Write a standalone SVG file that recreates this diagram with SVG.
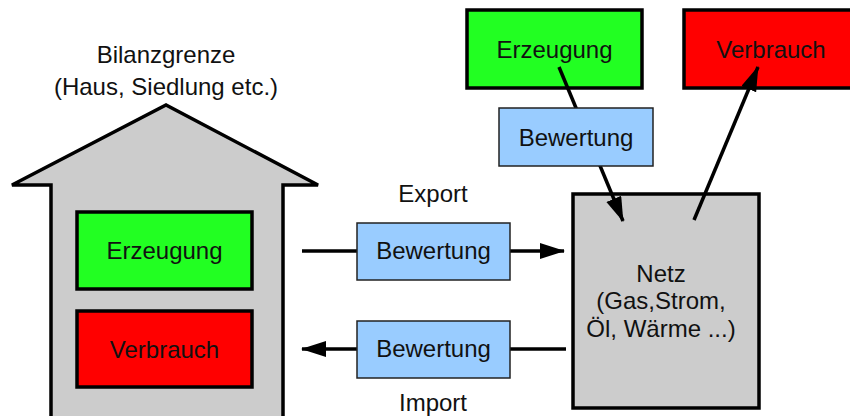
<svg xmlns="http://www.w3.org/2000/svg" width="850" height="416" viewBox="0 0 850 416">
  <style>
    text { font-family: "Liberation Sans", Arial, sans-serif; font-size: 24px; fill: #111; text-anchor: middle; }
    .box { stroke: #000; stroke-width: 3.5; }
    .eval { fill: #99ccff; stroke: #222; stroke-width: 1.5; }
    .gen { fill: #22ff22; }
    .use { fill: #ff0000; }
    .grey { fill: #cccccc; }
    .conn { stroke: #000; stroke-width: 3.5; fill: none; }
  </style>
  <defs>
    <marker id="arrow" markerUnits="userSpaceOnUse" markerWidth="28" markerHeight="20" refX="24" refY="8" orient="auto">
      <path d="M0,0 L25,8 L0,16 z" fill="#000"/>
    </marker>
  </defs>

  <rect width="850" height="416" fill="#fff"/>

  <!-- system boundary: house outline -->
  <g id="house">
    <polygon class="box grey" points="12,185 166,105 318,185 283,185 283,422 51,422 51,185"/>
    <text x="166" y="63">Bilanzgrenze</text>
    <text x="166" y="95">(Haus, Siedlung etc.)</text>
  </g>

  <g id="grid">
    <rect class="box grey" x="573" y="194" width="186" height="214"/>
    <text x="661" y="282">Netz</text>
    <text x="661" y="309">(Gas,Strom,</text>
    <text x="661" y="337">Öl, Wärme ...)</text>
  </g>

  <g id="external-generation">
    <rect class="box gen" x="467" y="10" width="175" height="78"/>
    <text x="554.5" y="58">Erzeugung</text>
  </g>
  <g id="external-consumption">
    <rect class="box use" x="684" y="10" width="175" height="78"/>
    <text x="771" y="58">Verbrauch</text>
  </g>

  <!-- flows -->
  <g id="connectors">
    <line class="conn" x1="302" y1="251" x2="564" y2="251" marker-end="url(#arrow)"/>
    <line class="conn" x1="566" y1="349" x2="302" y2="349" marker-end="url(#arrow)"/>
    <line class="conn" x1="559" y1="67" x2="623" y2="221" marker-end="url(#arrow)"/>
    <line class="conn" x1="694" y1="220" x2="758" y2="67" marker-end="url(#arrow)"/>
  </g>

  <g id="house-generation">
    <rect class="box gen" x="77" y="212" width="175" height="77"/>
    <text x="164.5" y="259">Erzeugung</text>
  </g>
  <g id="house-consumption">
    <rect class="box use" x="77" y="311" width="175" height="76"/>
    <text x="164.5" y="358">Verbrauch</text>
  </g>

  <g id="export-rating">
    <text x="433" y="202">Export</text>
    <rect class="eval" x="357" y="223" width="153" height="57"/>
    <text x="433.5" y="259">Bewertung</text>
  </g>
  <g id="import-rating">
    <rect class="eval" x="357" y="321" width="153" height="57"/>
    <text x="433.5" y="357">Bewertung</text>
    <text x="433" y="411">Import</text>
  </g>

  <g id="external-rating">
    <rect class="eval" x="499" y="108" width="154" height="58"/>
    <text x="576" y="146">Bewertung</text>
  </g>
</svg>
